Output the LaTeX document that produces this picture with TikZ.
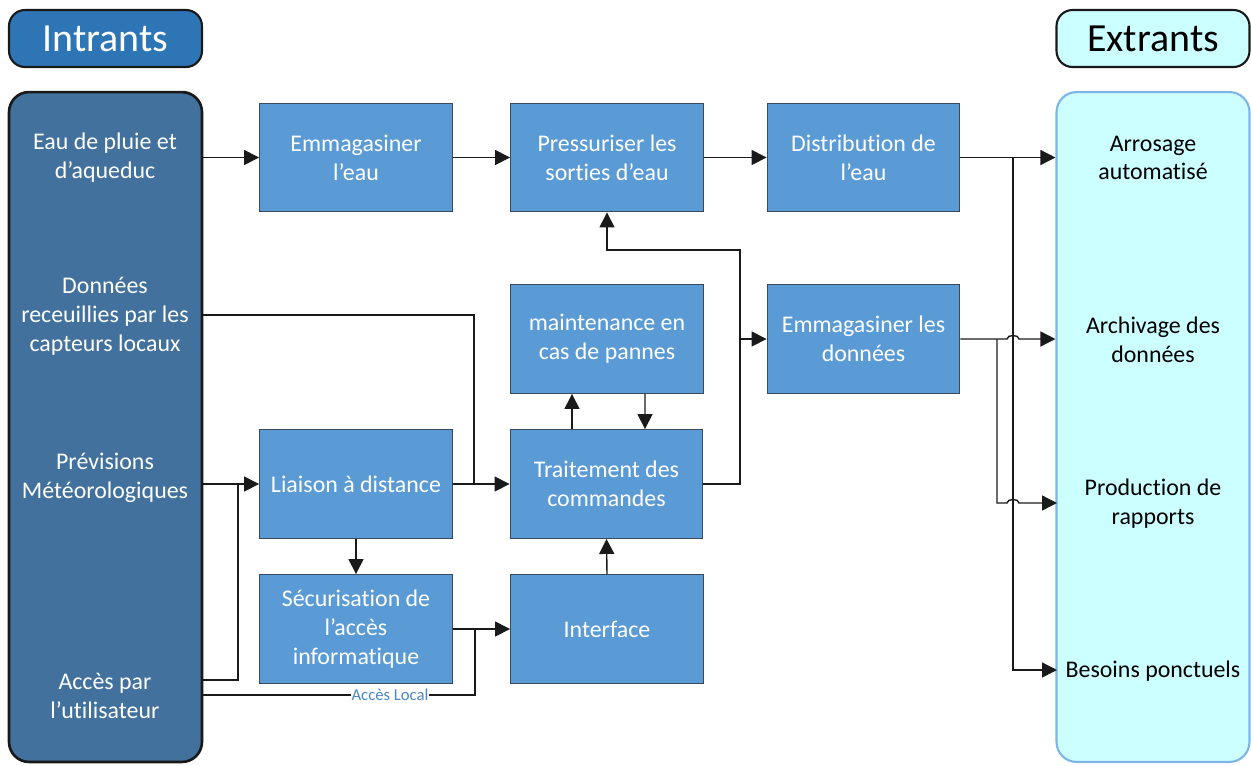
\documentclass[tikz,border=0pt]{standalone}
\usepackage{fontspec}
\setmainfont{Carlito}[Ligatures=NoCommon]
\usetikzlibrary{arrows.meta,calc}
\definecolor{boxblue}{HTML}{5B9BD5}
\definecolor{boxedge}{HTML}{3A4A5C}
\definecolor{panelblue}{HTML}{41719C}
\definecolor{headblue}{HTML}{2E75B6}
\definecolor{lightcyan}{HTML}{CCFFFF}
\definecolor{cyanedge}{HTML}{7FB4E6}
\definecolor{labelblue}{HTML}{4A86C8}
\definecolor{wire}{HTML}{1A1A1A}
\newcommand{\boxfont}{\fontsize{13.6}{16.4}\selectfont}
\newcommand{\headfont}{\fontsize{22.7}{27}\selectfont}
\begin{document}
\begin{tikzpicture}[x=0.02cm,y=-0.02cm,
  box/.style={draw=boxedge, fill=boxblue, line width=0.8pt, minimum width=3.85cm, minimum height=2.17cm, inner sep=0pt, text=white, align=center, font=\boxfont},
  panelleft/.style={draw=black!90, fill=panelblue, line width=1.5pt, rounded corners=0.4cm, minimum width=3.86cm, minimum height=13.4cm, inner sep=0pt},
  panelright/.style={draw=cyanedge, fill=lightcyan, line width=1.2pt, rounded corners=0.4cm, minimum width=3.86cm, minimum height=13.4cm, inner sep=0pt},
  headleft/.style={draw=black!90, fill=headblue, line width=1.2pt, rounded corners=0.32cm, minimum width=3.86cm, minimum height=1.14cm, inner sep=0pt, text=white, font=\headfont},
  headright/.style={draw=black!90, fill=lightcyan, line width=1.2pt, rounded corners=0.32cm, minimum width=3.86cm, minimum height=1.14cm, inner sep=0pt, text=black, font=\headfont},
  intext/.style={text=white, align=center, font=\boxfont, inner sep=0pt},
  outtext/.style={text=black, align=center, font=\boxfont, inner sep=0pt},
  wireline/.style={draw=wire, line width=0.8pt},
  arr/.style={wireline, -{Triangle[length=0.3cm,width=0.3cm]}},
  acces/.style={text=labelblue, fill=white, font=\fontsize{9.5}{11}\selectfont, inner sep=0.5pt}
]
\useasboundingbox (0,0) rectangle (1251,765);

% headers and panels
\node[headleft] (hin) at (105.5,38.5) {Intrants};
\node[headright] (hout) at (1153,38.5) {Extrants};
\node[panelleft] (inp) at (105.5,427) {};
\node[panelright] (outp) at (1153,427) {};

% input texts
\node[intext] (in1) at (105,158) {Eau de pluie et\\d’aqueduc};
\node[intext] (in2) at (105,316) {Données\\receuillies par les\\capteurs locaux};
\node[intext] (in3) at (105,478) {Prévisions\\Météorologiques};
\node[intext] (in4) at (105,696) {Accès par\\l’utilisateur};

% output texts
\node[outtext] (o1) at (1153,158) {Arrosage\\automatisé};
\node[outtext] (o2) at (1153,340) {Archivage des\\données};
\node[outtext] (o3) at (1153,504) {Production de\\rapports};
\node[outtext] (o4) at (1153,671) {Besoins ponctuels};

% process boxes
\node[box] (e1) at (356,157.5) {Emmagasiner\\l’eau};
\node[box] (p)  at (607,157.5) {Pressuriser les\\sorties d’eau};
\node[box] (d)  at (863.5,157.5) {Distribution de\\l’eau};
\node[box] (m)  at (607,339) {maintenance en\\cas de pannes};
\node[box] (ed) at (863.5,339) {Emmagasiner les\\données};
\node[box] (l)  at (356,484) {Liaison à distance};
\node[box] (t)  at (606.5,484) {Traitement des\\commandes};
\node[box] (s)  at (356,629) {Sécurisation de\\l’accès\\informatique};
\node[box] (i)  at (607,629) {Interface};

% junction coordinates
\coordinate (jd) at (1013,157.5);
\coordinate (je) at (997,339);
\coordinate (jt) at (740,339);
\coordinate (jtop) at (740,250);
\coordinate (jl) at (474,484);
\coordinate (ja) at (475,629);
\coordinate (jp) at (238,484);
\coordinate (a1) at (202,680);

% water chain
\draw[arr] (inp.east |- e1) -- (e1.west);
\draw[arr] (e1.east) -- (p.west);
\draw[arr] (p.east) -- (d.west);
\draw[arr] (d.east) -- (outp.west |- d.east);
\draw[arr] (jd) |- (1057,670);

% data storage
\draw[arr] (ed.east) -- (1007,339) to[out=90,in=90] (1019,339) -- (outp.west |- ed.east);
\draw[arr] (je) |- (1007,503) to[out=90,in=90] (1019,503) -- (1057,503);

% command processing
\draw[arr] (t.east) -| (jtop) -| (p.south);
\draw[arr] (jt) -- (ed.west);
\draw[arr] ($(t.north)+(-34.5,0)$) -- ($(m.south)+(-35,0)$);
\draw[arr] ($(m.south)+(38,0)$) -- ($(t.north)+(38.5,0)$);
\draw[arr] (i.north) -- (t.south);

% inputs to processing
\draw[wireline] (202,315) -| (jl);
\draw[arr] (l.east) -- (t.west);
\draw[arr] (inp.east |- l.west) -- (l.west);
\draw[wireline] (a1) -| (jp);
\draw[arr] (l.south) -- (s.north);
\draw[wireline] (202,695) -| (ja);
\draw[arr] (s.east) -- (i.west);
\node[acces] (al) at (390,695) {Accès Local};
\end{tikzpicture}
\end{document}
